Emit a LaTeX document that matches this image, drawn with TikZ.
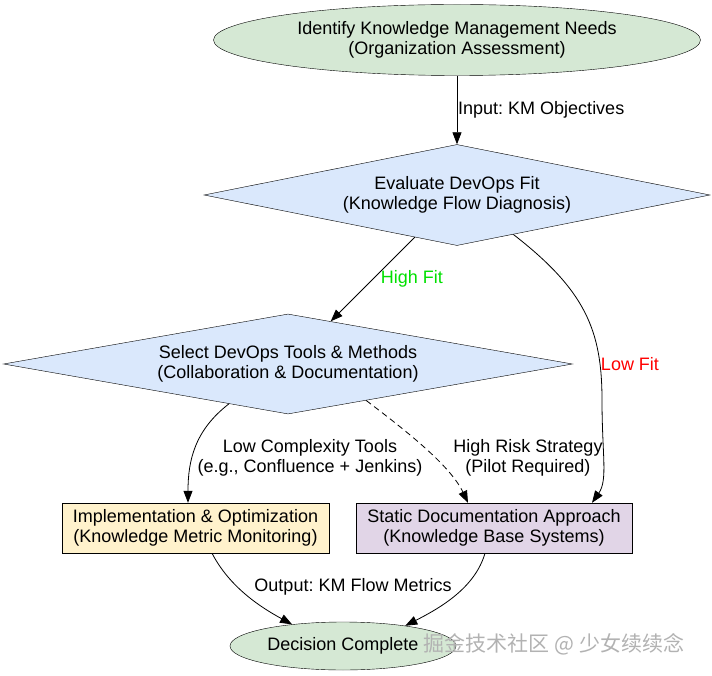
\documentclass[tikz,border=0pt]{standalone}
\usepackage{fontspec}
\setmainfont{Liberation Sans}
\newfontfamily\cjkfont{Noto Sans CJK SC}
\usetikzlibrary{shapes.geometric,arrows.meta}
\frenchspacing
\definecolor{startgreen}{HTML}{D5E8D4}
\definecolor{decblue}{HTML}{DAE8FC}
\definecolor{implyellow}{HTML}{FFF2CC}
\definecolor{staticpurple}{HTML}{E1D5E7}
\definecolor{lblgreen}{HTML}{00E000}
\definecolor{lblred}{HTML}{FF0000}
\tikzset{
  every node/.style={font=\fontsize{18}{20}\selectfont, align=center},
  startnode/.style={ellipse, draw=black, fill=startgreen, inner sep=0pt},
  decnode/.style={diamond, draw=black, fill=decblue, inner sep=0pt},
  boxnode/.style={rectangle, draw=black, inner sep=0pt},
  flow/.style={draw=black, line width=0.8pt, -{Triangle[length=12pt,width=9pt]}},
  lbl/.style={inner sep=0pt, text=black},
}
\begin{document}
\begin{tikzpicture}[x=1pt,y=-1pt]
\useasboundingbox (0,0) rectangle (712,676);
\node[startnode, minimum width=487pt, minimum height=71pt] (need) at (457,40)
  {Identify Knowledge Management Needs\\(Organization Assessment)};
\node[decnode, aspect=5.0, minimum width=506pt, minimum height=101pt] (eval) at (457,195)
  {Evaluate DevOps Fit\\(Knowledge Flow Diagnosis)};
\node[decnode, aspect=5.69, minimum width=569pt, minimum height=100pt] (select) at (288,364)
  {Select DevOps Tools \& Methods\\(Collaboration \& Documentation)};
\node[boxnode, fill=implyellow, minimum width=267pt, minimum height=50pt] (impl) at (195.5,528)
  {Implementation \& Optimization\\(Knowledge Metric Monitoring)};
\node[boxnode, fill=staticpurple, minimum width=276pt, minimum height=50pt] (static) at (494,528)
  {Static Documentation Approach\\(Knowledge Base Systems)};
\node[startnode, minimum width=226pt, minimum height=48pt] (done) at (343,646)
  {Decision Complete};

\draw[flow] (need.south) -- (eval.north);
\node[lbl, anchor=west] (lin) at (458,110) {Input: KM Objectives};

\draw[flow] (eval.225) -- (select.45);
\node[lbl, text=lblgreen] (lhigh) at (412,279) {High Fit};

\draw[flow] (eval.325) .. controls (585,290) and (602,330) .. (602,400)
  .. controls (602,455) and (608,480) .. ([xshift=98pt]static.north);
\node[lbl, text=lblred] (llow) at (630,364) {Low Fit};

\draw[flow] (select.214) .. controls (195,430) and (188,460) .. ([xshift=-7.5pt]impl.north);
\node[lbl] (lcomp) at (310,458) {Low Complexity Tools\\(e.g., Confluence + Jenkins)};

\draw[flow, dashed, dash pattern=on 6pt off 4pt] (select.335) .. controls (405,430) and (450,465) .. ([xshift=-26pt]static.north);
\node[lbl] (lrisk) at (528,458) {High Risk Strategy\\(Pilot Required)};

\draw[flow] ([xshift=16.5pt]impl.south) .. controls (230,588) and (262,608) .. (done.157);
\draw[flow] ([xshift=-9pt]static.south) .. controls (475,588) and (440,608) .. (done.18);
\node[lbl] (lout) at (353,587) {Output: KM Flow Metrics};

\node[inner sep=0pt, text=black!30, font=\cjkfont\fontsize{21}{22}\selectfont] (wm) at (554,644) {掘金技术社区 @ 少女续续念};
\end{tikzpicture}
\end{document}
